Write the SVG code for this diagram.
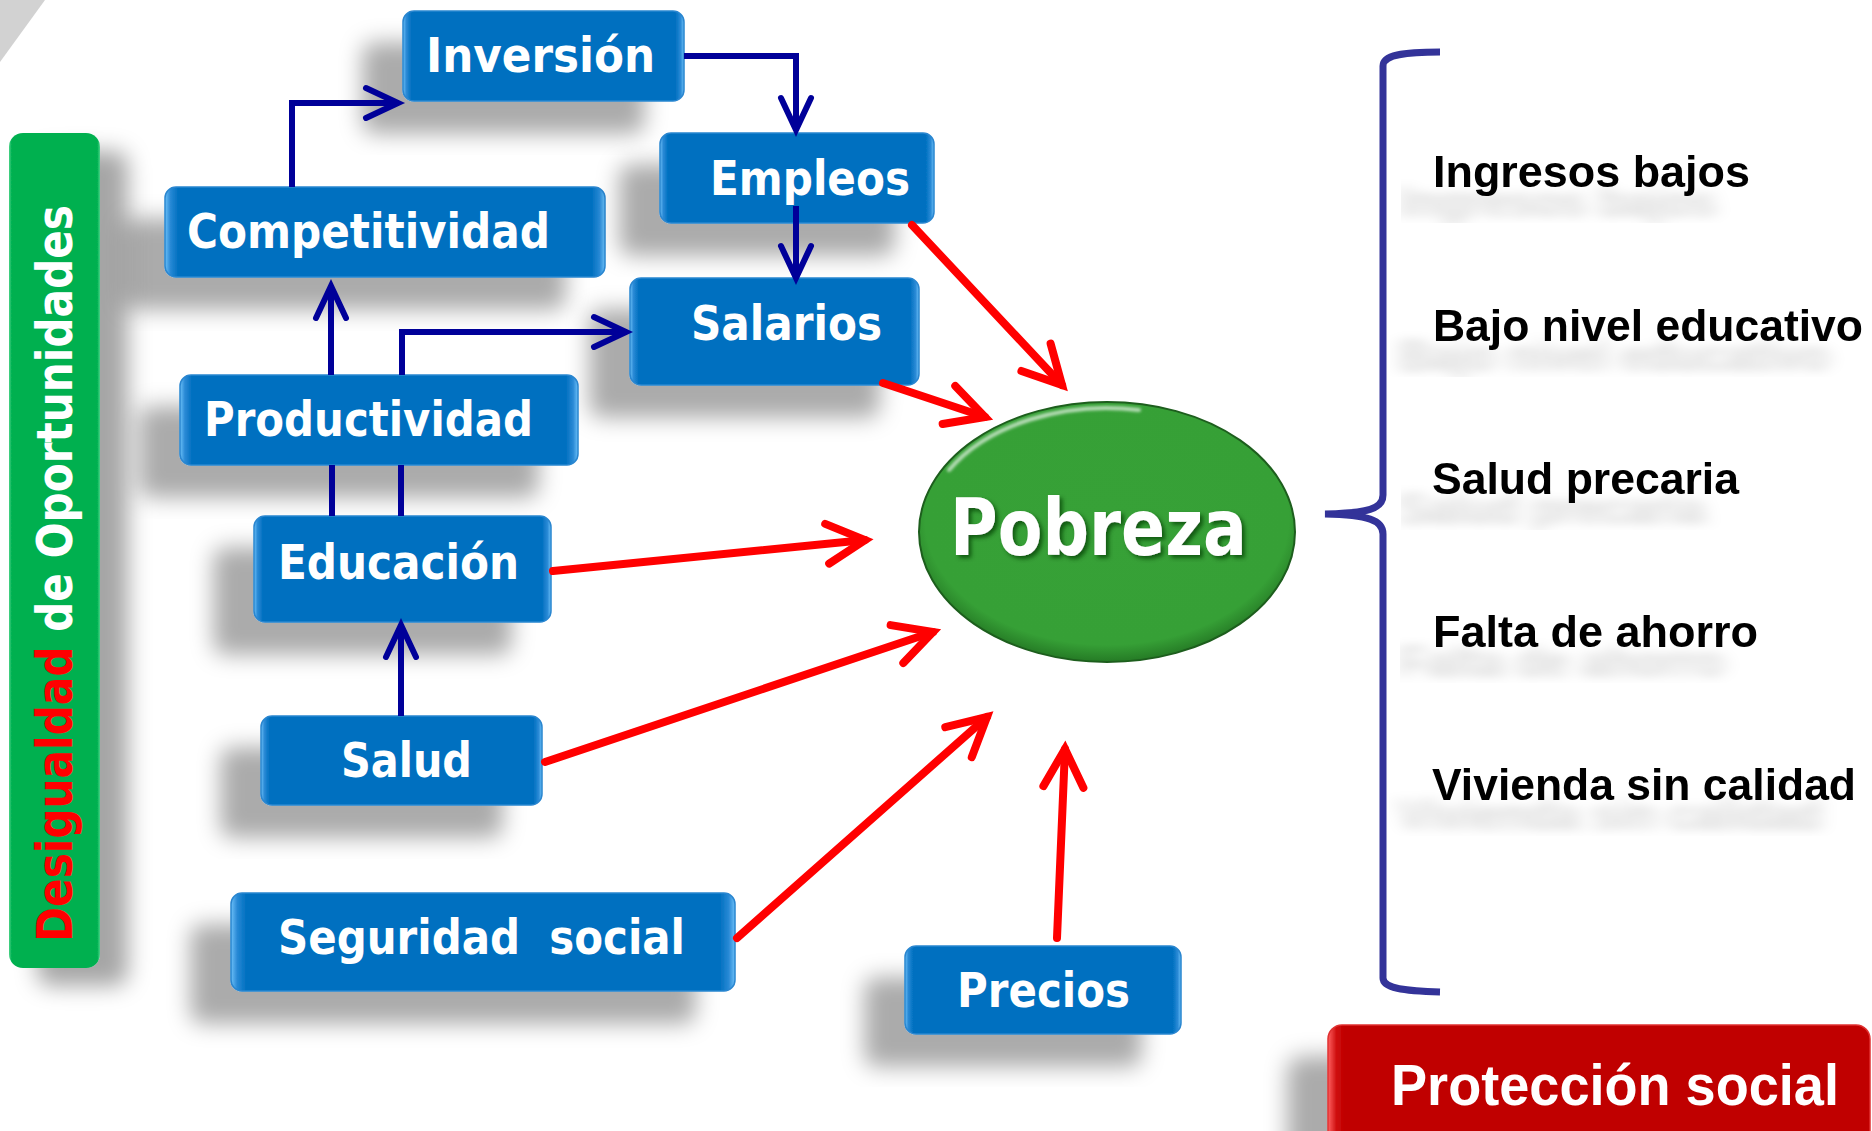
<svg xmlns="http://www.w3.org/2000/svg" width="1872" height="1131" viewBox="0 0 1872 1131">
  <style>
    .box { fill: url(#gBlue); stroke: #2a86d0; stroke-width: 1.5; }
    .btxt { font-family: "DejaVu Sans", "Liberation Sans", sans-serif; font-weight: bold; font-size: 48px; fill: #ffffff; }
    .rtxt { font-family: "Liberation Sans", Arial, sans-serif; font-weight: bold; font-size: 45px; fill: #000000; }
    .blue { fill: none; stroke: #000099; stroke-width: 6; }
    .red { fill: none; stroke: #ff0000; stroke-width: 8; stroke-linecap: round; }
  </style>
  <defs>
    <linearGradient id="gBlue" x1="0" y1="0" x2="1" y2="0">
      <stop offset="0" stop-color="#6cc0f8"/>
      <stop offset="0.012" stop-color="#2a8ad6"/>
      <stop offset="0.03" stop-color="#0070c0"/>
      <stop offset="0.97" stop-color="#0070c0"/>
      <stop offset="0.988" stop-color="#2a8ad6"/>
      <stop offset="1" stop-color="#6cc0f8"/>
    </linearGradient>
    <linearGradient id="gGreen" x1="0" y1="0" x2="1" y2="0">
      <stop offset="0" stop-color="#4cd488"/>
      <stop offset="0.03" stop-color="#00b050"/>
      <stop offset="0.97" stop-color="#00b050"/>
      <stop offset="1" stop-color="#4cd488"/>
    </linearGradient>
    <linearGradient id="gRed" x1="0" y1="0" x2="1" y2="0">
      <stop offset="0" stop-color="#ff6060"/>
      <stop offset="0.015" stop-color="#d01010"/>
      <stop offset="0.03" stop-color="#c00000"/>
      <stop offset="1" stop-color="#c00000"/>
    </linearGradient>
    <radialGradient id="gEll" cx="0.5" cy="0.45" r="0.55">
      <stop offset="0" stop-color="#37a137"/>
      <stop offset="0.88" stop-color="#36a036"/>
      <stop offset="1" stop-color="#257a25"/>
    </radialGradient>
    <filter id="shL" x="-40%" y="-40%" width="180%" height="200%">
      <feGaussianBlur in="SourceAlpha" stdDeviation="11"/>
      <feOffset dx="-40" dy="32" result="b"/>
      <feFlood flood-color="#000" flood-opacity="0.33"/>
      <feComposite in2="b" operator="in"/>
      <feMerge><feMergeNode/><feMergeNode in="SourceGraphic"/></feMerge>
    </filter>
    <filter id="shR" x="-60%" y="-10%" width="220%" height="130%">
      <feGaussianBlur in="SourceAlpha" stdDeviation="11"/>
      <feOffset dx="28" dy="18" result="b"/>
      <feFlood flood-color="#000" flood-opacity="0.35"/>
      <feComposite in2="b" operator="in"/>
      <feMerge><feMergeNode/><feMergeNode in="SourceGraphic"/></feMerge>
    </filter>
    <filter id="tsh" x="-10%" y="-10%" width="115%" height="160%">
      <feGaussianBlur in="SourceAlpha" stdDeviation="9 5"/>
      <feOffset dx="-34" dy="30" result="b"/>
      <feFlood flood-color="#000" flood-opacity="0.15"/>
      <feComposite in2="b" operator="in"/>
      <feMerge><feMergeNode/><feMergeNode in="SourceGraphic"/></feMerge>
    </filter>
    <filter id="psh" x="-10%" y="-20%" width="120%" height="150%">
      <feGaussianBlur in="SourceAlpha" stdDeviation="2"/>
      <feOffset dx="3" dy="3" result="b"/>
      <feFlood flood-color="#0a3a0a" flood-opacity="0.7"/>
      <feComposite in2="b" operator="in"/>
      <feMerge><feMergeNode/><feMergeNode in="SourceGraphic"/></feMerge>
    </filter>
    <filter id="soft" x="-10%" y="-30%" width="120%" height="160%">
      <feGaussianBlur stdDeviation="1.5"/>
    </filter>
    <marker id="aBlue" markerUnits="userSpaceOnUse" orient="auto" refX="0" refY="0" markerWidth="60" markerHeight="60" overflow="visible">
      <path d="M-32,-15 L0,0 L-32,15" fill="none" stroke="#000099" stroke-width="6" stroke-linecap="round"/>
    </marker>
    <marker id="aRed" markerUnits="userSpaceOnUse" orient="auto" refX="0" refY="0" markerWidth="60" markerHeight="60" overflow="visible">
      <path d="M-38,-20 L0,0 L-38,20" fill="none" stroke="#ff0000" stroke-width="8" stroke-linecap="round"/>
    </marker>
  </defs>

  <rect width="1872" height="1131" fill="#ffffff"/>
  <polygon points="0,0 45,0 0,62" fill="#d2d2d2"/>

  <g id="bar-desigualdad" filter="url(#shR)">
    <rect x="9" y="133" width="91" height="835" rx="14" fill="url(#gGreen)"/>
  </g>
  <text transform="translate(72,942) rotate(-90)" font-family="'DejaVu Sans', 'Liberation Sans', sans-serif" font-weight="bold" font-size="50" textLength="737" lengthAdjust="spacingAndGlyphs"><tspan fill="#ff0000">Desigualdad</tspan><tspan fill="#ffffff"> de Oportunidades</tspan></text>

  <g id="node-inversion">
    <rect class="box" filter="url(#shL)" x="403" y="11" width="281" height="90" rx="11"/>
    <text class="btxt" x="426" y="72" textLength="229" lengthAdjust="spacingAndGlyphs">Inversión</text>
  </g>
  <g id="node-competitividad">
    <rect class="box" filter="url(#shL)" x="165" y="187" width="440" height="90" rx="11"/>
    <text class="btxt" x="187" y="248" textLength="363" lengthAdjust="spacingAndGlyphs">Competitividad</text>
  </g>
  <g id="node-empleos">
    <rect class="box" filter="url(#shL)" x="660" y="133" width="274" height="90" rx="11"/>
    <text class="btxt" x="710" y="195" textLength="200" lengthAdjust="spacingAndGlyphs">Empleos</text>
  </g>
  <g id="node-salarios">
    <rect class="box" filter="url(#shL)" x="630" y="278" width="289" height="107" rx="11"/>
    <text class="btxt" x="691" y="340" textLength="191" lengthAdjust="spacingAndGlyphs">Salarios</text>
  </g>
  <g id="node-productividad">
    <rect class="box" filter="url(#shL)" x="180" y="375" width="398" height="90" rx="11"/>
    <text class="btxt" x="204" y="436" textLength="329" lengthAdjust="spacingAndGlyphs">Productividad</text>
  </g>
  <g id="node-educacion">
    <rect class="box" filter="url(#shL)" x="254" y="516" width="297" height="106" rx="11"/>
    <text class="btxt" x="278" y="579" textLength="241" lengthAdjust="spacingAndGlyphs">Educación</text>
  </g>
  <g id="node-salud">
    <rect class="box" filter="url(#shL)" x="261" y="716" width="281" height="89" rx="11"/>
    <text class="btxt" x="341" y="777" textLength="131" lengthAdjust="spacingAndGlyphs">Salud</text>
  </g>
  <g id="node-seguridad">
    <rect class="box" filter="url(#shL)" x="231" y="893" width="504" height="98" rx="11"/>
    <text class="btxt" x="278" y="954" textLength="407" lengthAdjust="spacingAndGlyphs" style="white-space:pre">Seguridad  social</text>
  </g>
  <g id="node-precios">
    <rect class="box" filter="url(#shL)" x="905" y="946" width="276" height="88" rx="11"/>
    <text class="btxt" x="957" y="1007" textLength="173" lengthAdjust="spacingAndGlyphs">Precios</text>
  </g>

  <g id="node-pobreza">
    <ellipse cx="1107" cy="532" rx="188" ry="130" fill="url(#gEll)" stroke="#1d5e1d" stroke-width="2"/>
    <path d="M 949 470 A 182 124 0 0 1 1139 410" fill="none" stroke="#ffffff" stroke-width="4" stroke-linecap="round" opacity="0.65" filter="url(#soft)"/>
    <text x="950" y="555" filter="url(#psh)" font-family="'DejaVu Sans', 'Liberation Sans', sans-serif" font-weight="bold" font-size="78" fill="#ffffff" textLength="297" lengthAdjust="spacingAndGlyphs">Pobreza</text>
  </g>

  <g id="brace">
    <path d="M 1440 52 C 1402 52, 1383 55, 1383 66 L 1383 495 C 1383 509, 1368 513, 1325 514 C 1368 515, 1383 520, 1383 534 L 1383 978 C 1383 988, 1402 991, 1440 992" fill="none" stroke="#333399" stroke-width="7" stroke-linecap="butt"/>
  </g>

  <g id="list-causas">
    <text class="rtxt" filter="url(#tsh)" x="1433" y="187" textLength="317" lengthAdjust="spacingAndGlyphs">Ingresos bajos</text>
    <text class="rtxt" filter="url(#tsh)" x="1433" y="341" textLength="430" lengthAdjust="spacingAndGlyphs">Bajo nivel educativo</text>
    <text class="rtxt" filter="url(#tsh)" x="1432" y="494" textLength="307" lengthAdjust="spacingAndGlyphs">Salud precaria</text>
    <text class="rtxt" filter="url(#tsh)" x="1433" y="647" textLength="325" lengthAdjust="spacingAndGlyphs">Falta de ahorro</text>
    <text class="rtxt" filter="url(#tsh)" x="1432" y="800" textLength="424" lengthAdjust="spacingAndGlyphs">Vivienda sin calidad</text>
  </g>

  <g id="node-proteccion">
    <rect filter="url(#shL)" x="1328" y="1025" width="542" height="130" rx="14" fill="url(#gRed)" stroke="#e03030" stroke-width="1.5"/>
    <text x="1391" y="1105" font-family="'Liberation Sans', Arial, sans-serif" font-weight="bold" font-size="57" fill="#ffffff" textLength="448" lengthAdjust="spacingAndGlyphs">Protección social</text>
  </g>

  <g id="connectors">
    <path class="blue" d="M292,187 V103 H398" marker-end="url(#aBlue)"/>
    <path class="blue" d="M684,56 H796 V130" marker-end="url(#aBlue)"/>
    <path class="blue" d="M796,206 V278" marker-end="url(#aBlue)"/>
    <path class="blue" d="M331,375 V286" marker-end="url(#aBlue)"/>
    <path class="blue" d="M402,375 V332 H626" marker-end="url(#aBlue)"/>
    <path class="blue" d="M332,516 V465"/>
    <path class="blue" d="M401,516 V465"/>
    <path class="blue" d="M401,716 V625" marker-end="url(#aBlue)"/>

    <path class="red" d="M912,225 L1062,385" marker-end="url(#aRed)"/>
    <path class="red" d="M883,383 L985,417" marker-end="url(#aRed)"/>
    <path class="red" d="M553,571 L865,540" marker-end="url(#aRed)"/>
    <path class="red" d="M545,762 L933,632" marker-end="url(#aRed)"/>
    <path class="red" d="M737,938 L987,717" marker-end="url(#aRed)"/>
    <path class="red" d="M1057,938 L1065,749" marker-end="url(#aRed)"/>
  </g>
</svg>
